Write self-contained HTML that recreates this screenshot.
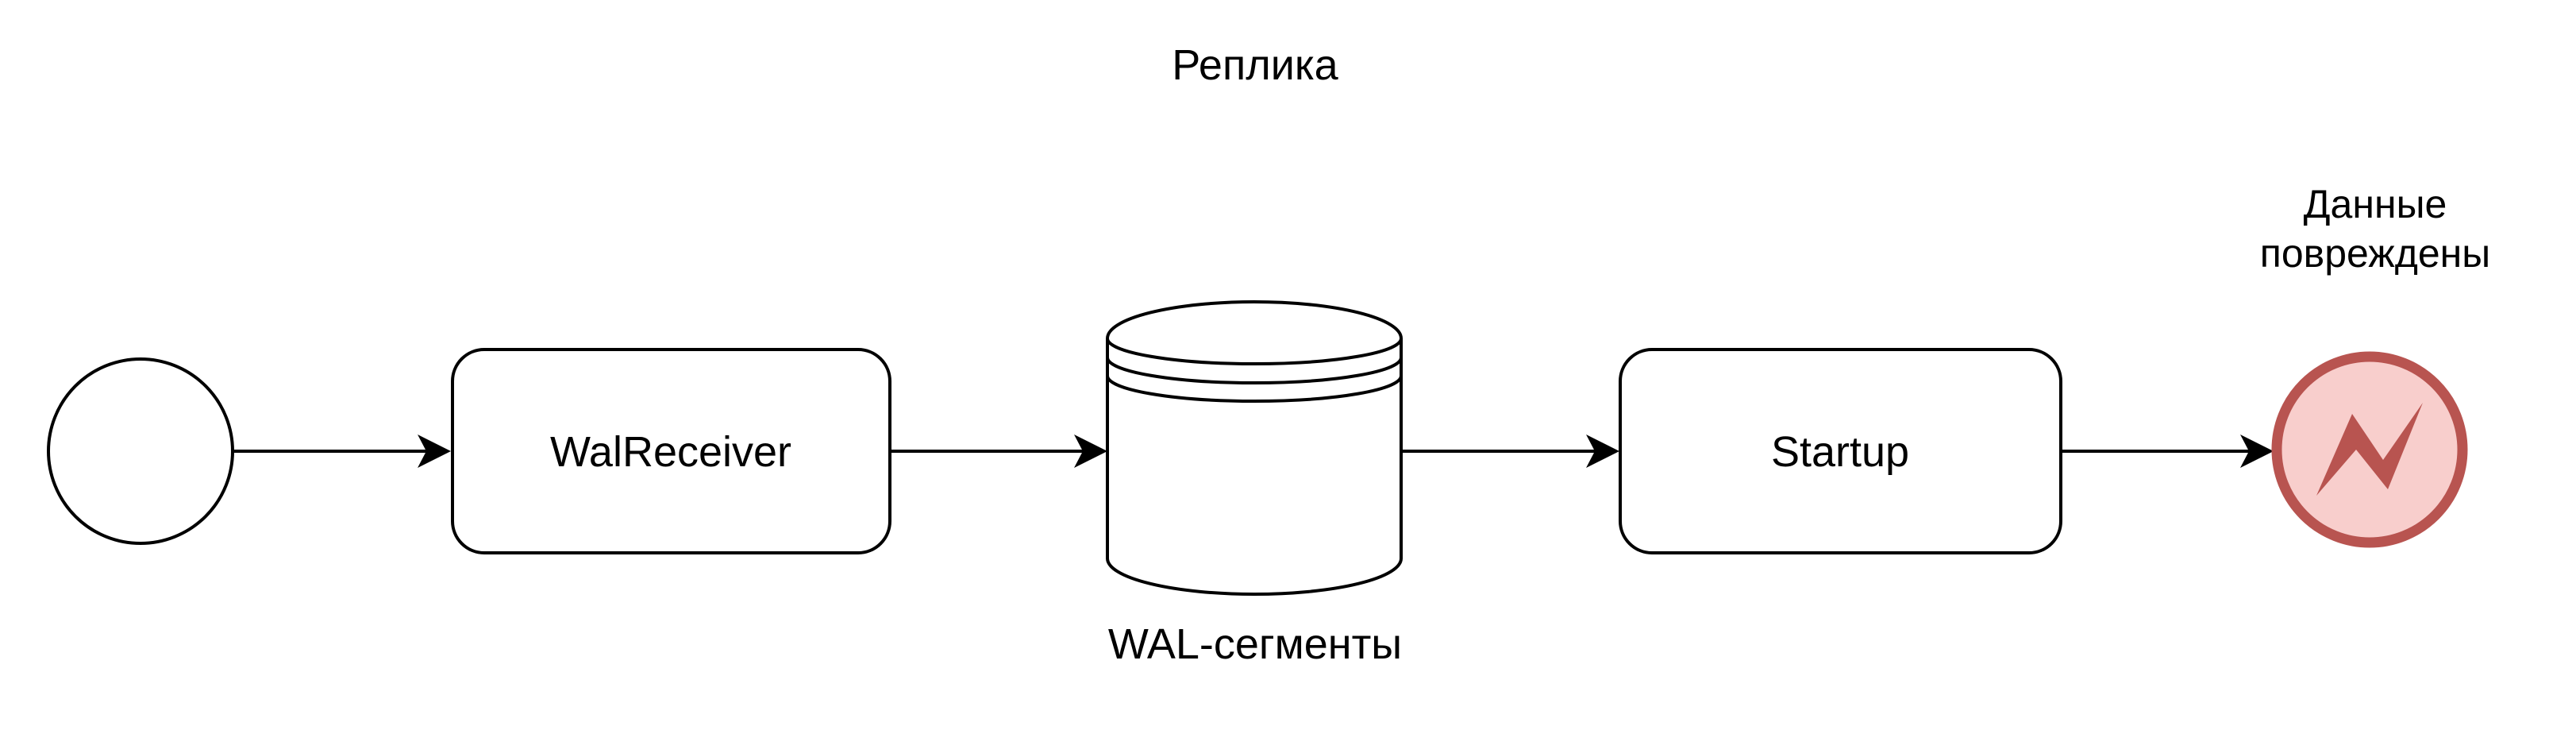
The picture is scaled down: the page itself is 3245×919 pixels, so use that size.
<!DOCTYPE html>
<html><head><meta charset="utf-8"><style>
html,body{margin:0;padding:0;background:#fff;}
svg{display:block}
text{font-family:"Liberation Sans",Arial,sans-serif;fill:#000}
</style></head><body>
<svg width="3245" height="919" viewBox="0 0 3245 919" xmlns="http://www.w3.org/2000/svg">
<text x="1581" y="100" font-size="54" text-anchor="middle">Реплика</text>
<circle cx="177" cy="568" r="116" fill="#fff" stroke="#000" stroke-width="4"/>
<g stroke="#000" stroke-width="4">
<line x1="294" y1="568" x2="540" y2="568"/>
<line x1="1121" y1="568" x2="1368" y2="568"/>
<line x1="1765" y1="568" x2="2012" y2="568"/>
<line x1="2596" y1="568" x2="2836" y2="568"/>
</g>
<g fill="#000">
<path d="M568 568 L526 547 L537 568 L526 589 Z"/>
<path d="M1395 568 L1353 547 L1364 568 L1353 589 Z"/>
<path d="M2040 568 L1998 547 L2009 568 L1998 589 Z"/>
<path d="M2864 568 L2822 547 L2833 568 L2822 589 Z"/>
</g>
<rect x="570" y="440" width="551" height="256" rx="40" fill="#fff" stroke="#000" stroke-width="4"/>
<text x="845" y="587" font-size="54" text-anchor="middle">WalReceiver</text>
<path d="M1395 426 A185 46 0 0 1 1765 426 L1765 703 A185 45 0 0 1 1395 703 Z" fill="#fff" stroke="#000" stroke-width="4"/>
<g fill="none" stroke="#000" stroke-width="4">
<path d="M1395 426 A185 32 0 0 0 1765 426"/>
<path d="M1395 450 A185 32 0 0 0 1765 450"/>
<path d="M1395 473 A185 32 0 0 0 1765 473"/>
</g>
<text x="1581" y="829" font-size="54" text-anchor="middle">WAL-сегменты</text>
<rect x="2041" y="440" width="555" height="256" rx="40" fill="#fff" stroke="#000" stroke-width="4"/>
<text x="2318" y="587" font-size="54" text-anchor="middle">Startup</text>
<circle cx="2985" cy="566" r="117" fill="#f8cecc" stroke="#b85450" stroke-width="13"/>
<path d="M2918 624 L2963 521 L3002 579 L3052 507 L3008 616 L2968 566 Z" fill="#b85450"/>
<text x="2992" y="274" font-size="50" text-anchor="middle">Данные</text>
<text x="2992" y="336" font-size="50" text-anchor="middle">повреждены</text>
</svg>
</body></html>
